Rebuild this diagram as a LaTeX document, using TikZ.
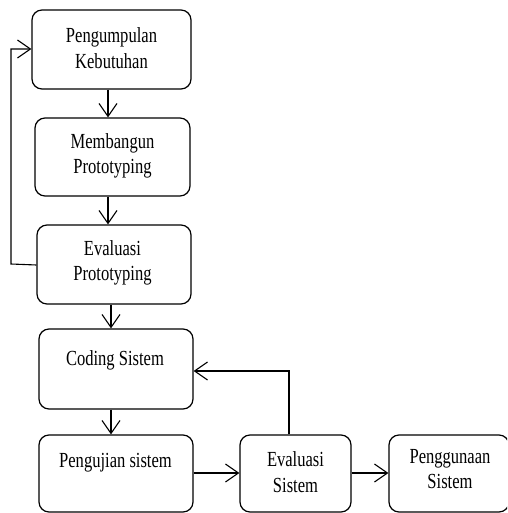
\documentclass[tikz,border=0pt]{standalone}
\usepackage{fontspec}
\setmainfont{Liberation Serif}[FakeStretch=0.77]
\usetikzlibrary{arrows.meta,calc}
\begin{document}
\begin{tikzpicture}[x=1pt,y=-1pt,
  box/.style={draw, line width=1.2pt, rounded corners=10pt, inner sep=0pt},
  txt/.style={align=center, font=\fontsize{21.5}{25.5}\selectfont, inner sep=0pt},
  arr/.style={line width=1.1pt, -{Straight Barb[length=13pt,width=18pt,line width=1.1pt]}}]
\clip (0,0) rectangle (507,513);
\useasboundingbox (0,0) rectangle (507,513);
\node[box, minimum width=159pt, minimum height=79pt] (b1) at (111.5,49.5) {};
\node[box, minimum width=155pt, minimum height=78pt] (b2) at (112.5,157) {};
\node[box, minimum width=154pt, minimum height=79pt] (b3) at (114,264.5) {};
\node[box, minimum width=154pt, minimum height=80pt] (b4) at (116,369) {};
\node[box, minimum width=154pt, minimum height=77pt] (b5) at (116,473.5) {};
\node[box, minimum width=111pt, minimum height=77pt] (b6) at (295.5,473.5) {};
\node[box, minimum width=120pt, minimum height=77pt] (b7) at (449,473.5) {};
\node[txt] (t1) at (111.5,48) {Pengumpulan\\Kebutuhan};
\node[txt] (t2) at (112.5,156) {Membangun\\Prototyping};
\node[txt] (t3) at (112.5,263) {Evaluasi\\Prototyping};
\node[txt] (t4) at (115,360) {Coding Sistem};
\node[txt] (t5) at (115.5,463) {Pengujian sistem};
\node[txt] (t6) at (295.5,472) {Evaluasi\\Sistem};
\node[txt] (t7) at (450,469) {Penggunaan\\Sistem};
\draw[arr] ([xshift=-3.5pt]b1.south) -- ([xshift=-3.5pt]b1.south |- b2.north);
\draw[arr] ([xshift=-4.5pt]b2.south) -- ([xshift=-4.5pt]b2.south |- b3.north);
\draw[arr] ([xshift=-3pt]b3.south) -- ([xshift=-3pt]b3.south |- b4.north);
\draw[arr] ([xshift=-5pt]b4.south) -- ([xshift=-5pt]b4.south |- b5.north);
\draw[arr] (b5.east |- 0,473) -- (b6.west |- 0,473);
\draw[arr] (b6.east |- 0,473) -- (b7.west |- 0,473);
\draw[arr] ([yshift=-0.5pt]b3.west) -- (11,264) -- (11,49) -- (b1.west |- 0,49);
\draw[arr] (b6.north -| 289,0) -- (289,371) -- (b4.east |- 0,371);
\end{tikzpicture}
\end{document}
